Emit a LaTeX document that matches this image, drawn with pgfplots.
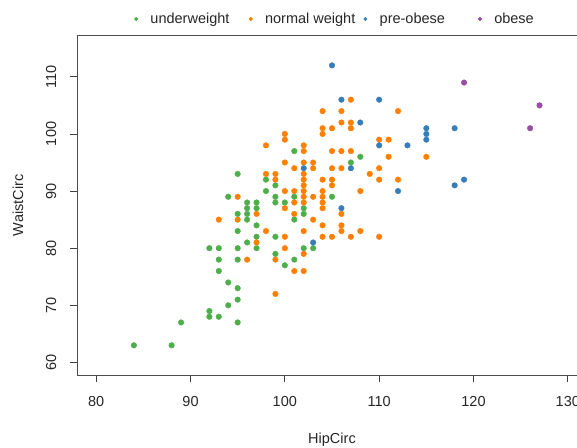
\documentclass[border=0pt]{standalone}
\usepackage{pgfplots}
\pgfplotsset{compat=1.18}
\usepackage{fontspec}
\setmainfont{Liberation Sans}
\newcommand{\f}{\fontsize{14.5}{17}\selectfont}
\definecolor{cgreen}{HTML}{4DAF4A}
\definecolor{corange}{HTML}{FF7F00}
\definecolor{cblue}{HTML}{377EB8}
\definecolor{cpurple}{HTML}{984EA3}
\begin{document}
\begin{tikzpicture}
\useasboundingbox (0,0) rectangle (577pt,447pt);
\clip (0,0) rectangle (577pt,447pt);
\begin{axis}[
    at={(77.3pt,72pt)}, anchor=south west,
    width=509.4pt, height=339.3pt, scale only axis,
    xmin=78, xmax=132, ymin=57.8, ymax=117.2,
    xtick={80,90,...,130}, ytick={60,70,...,110},
    tick pos=left, tick align=outside,
    major tick length=7pt,
    axis line style={black!70, line width=0.8pt},
    every tick/.style={black!75, line width=0.8pt},
    /pgf/number format/assume math mode=true,
    tick label style={font=\f, text=black!85, inner sep=0pt},
    xticklabel style={anchor=north},
    yticklabel style={rotate=90, anchor=south},
    xticklabel shift=13.7pt, yticklabel shift=13.8pt,
    xlabel={HipCirc}, ylabel={WaistCirc},
    label style={font=\f, text=black!85, inner sep=0pt},
    xlabel style={at={(axis description cs:0.5,-0.2013)}, anchor=base},
    ylabel style={at={(axis description cs:-0.1062,0.5)}, anchor=base},
    legend columns=4,
    legend style={at={(axis description cs:0.1113,1.0492)}, anchor=west,
        draw=none, fill=none, inner sep=0pt, font=\f, text=black!85},
    legend cell align=left,
    legend image code/.code={\fill (0pt,0pt) circle (1.8pt);},
    only marks, mark=*, mark size=2.8pt,
]
\addplot[color=cgreen, only marks, mark=*, mark options={draw=none}] coordinates {
(84,63) (88,63) (89,67) (92,68) (92,69) (93,68) (94,70) (95,67) (95,71) (95,73)
(94,74) (93,76) (93,78) (92,80) (93,80) (95,78) (95,80) (97,80) (96,81) (97,82)
(99,82) (100,77) (99,79) (101,78) (102,80) (103,80) (95,83) (97,84) (96,85) (101,85)
(95,86) (96,86) (102,86) (96,87) (97,87) (102,87) (96,88) (97,88) (99,88) (100,88)
(94,89) (99,89) (101,89) (98,90) (99,91) (98,92) (95,93) (101,97) (108,96) (107,95)
(105,89)
};
\addlegendentry{\hspace{10.3pt}\makebox[96.3pt][l]{underweight}}
\addplot[color=corange, only marks, mark=*, mark options={draw=none}] coordinates {
(93,85) (95,85) (95,89) (97,86) (98,83) (100,82) (97,81) (100,80) (102,79) (96,78)
(99,78) (101,76) (102,76) (99,72) (103,85) (102,83) (100,87) (101,86) (101,88) (102,88)
(102,89) (102,90) (102,91) (102,92) (102,93) (103,89) (100,90) (101,90) (98,93) (99,93)
(99,92) (100,95) (101,94) (102,95) (103,95) (103,94) (98,98) (100,100) (100,99) (102,98)
(102,97) (104,104) (106,104) (112,104) (107,106) (106,102) (107,102) (104,101) (104,100) (105,101)
(107,101) (110,99) (111,99) (105,97) (106,97) (107,97) (111,96) (115,96) (105,94) (106,94)
(110,94) (109,93) (110,92) (112,92) (104,92) (105,92) (105,91) (108,90) (104,90) (104,89)
(104,88) (104,87) (106,86) (104,84) (106,84) (106,83) (108,83) (104,82) (105,82) (107,82)
(110,82)
};
\addlegendentry{\hspace{10.3pt}\makebox[96.3pt][l]{normal weight}}
\addplot[color=cblue, only marks, mark=*, mark options={draw=none}] coordinates {
(105,112) (106,106) (110,106) (108,102) (115,101) (115,100) (115,99) (118,101) (110,98) (113,98)
(107,94) (102,94) (119,92) (118,91) (112,90) (106,87) (103,81)
};
\addlegendentry{\hspace{10.3pt}\makebox[96.3pt][l]{pre-obese}}
\addplot[color=cpurple, only marks, mark=*, mark options={draw=none}] coordinates {
(119,109) (127,105) (126,101)
};
\addlegendentry{\hspace{10.3pt}\makebox[96.3pt][l]{obese}}
\end{axis}
\end{tikzpicture}
\end{document}
